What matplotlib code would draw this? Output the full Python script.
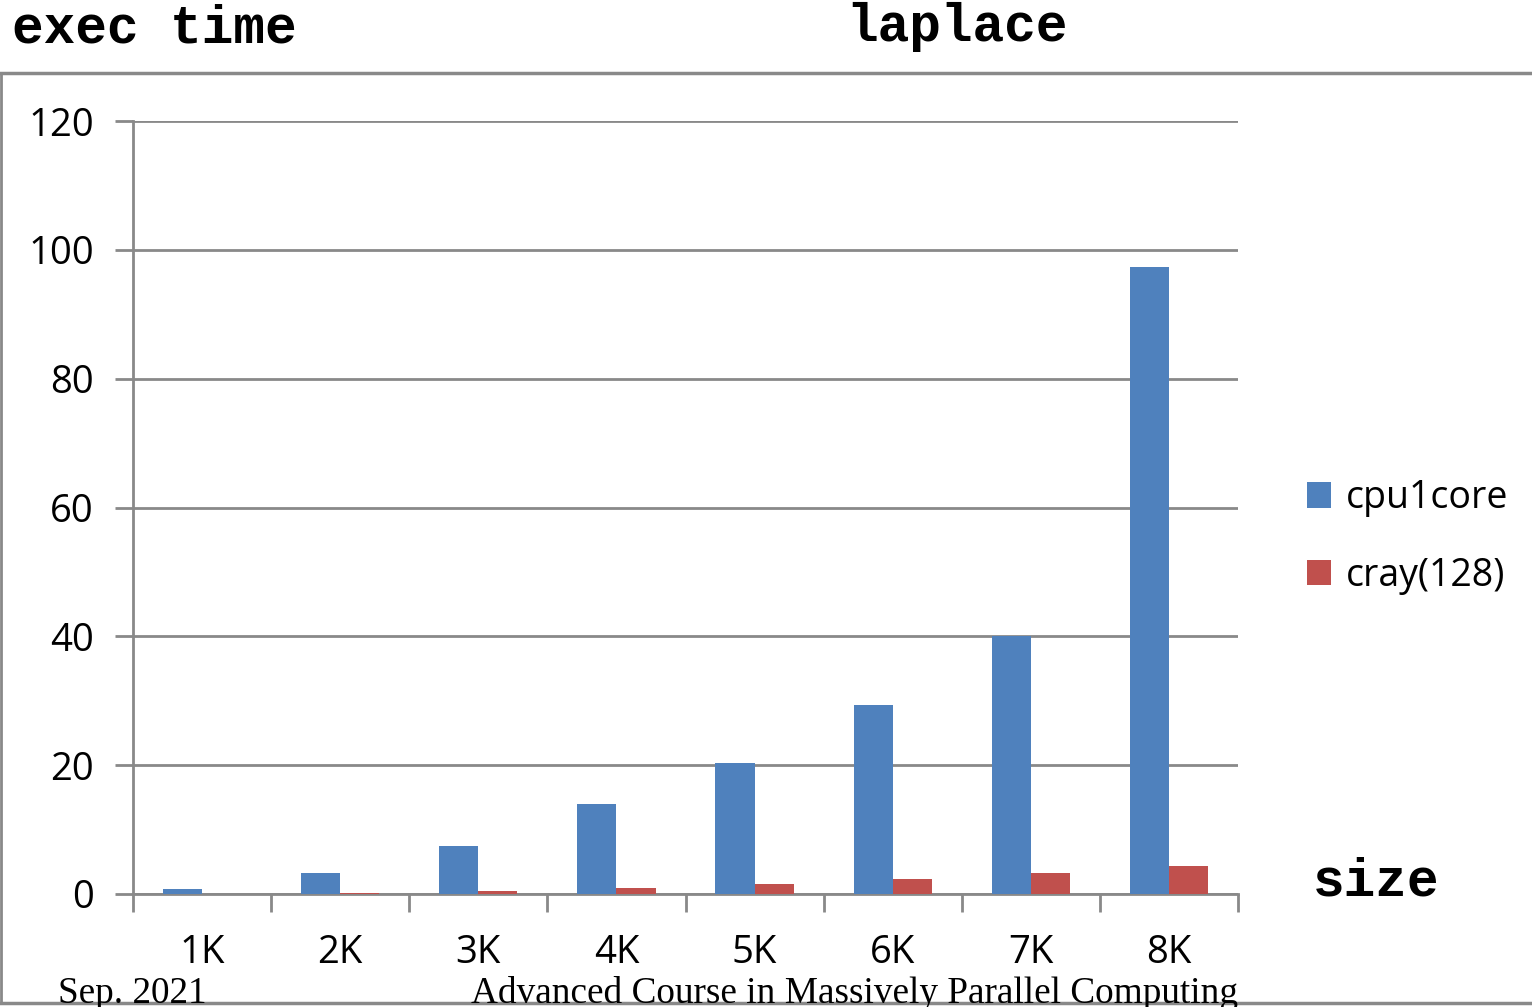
import matplotlib.pyplot as plt
from matplotlib.lines import Line2D
import numpy as np

sizes = ['1K', '2K', '3K', '4K', '5K', '6K', '7K', '8K']
cpu1core = [0.8, 3.3, 7.5, 14.0, 20.3, 29.3, 40.0, 97.4]
cray128 = [0.05, 0.1, 0.5, 0.9, 1.6, 2.3, 3.3, 4.3]

BLUE = '#4F81BD'
RED = '#C0504D'
GRID = '#898989'

fig = plt.figure(figsize=(15.32, 10.07), dpi=100)
ax = fig.add_axes([133 / 1532, 113 / 1007, 1105 / 1532, 773 / 1007])

x = np.arange(len(sizes))
w = 0.283
ax.bar(x - w / 2, cpu1core, w, color=BLUE, label='cpu1core', zorder=3)
ax.bar(x + w / 2, cray128, w, color=RED, label='cray(128)', zorder=3)

ax.set_xlim(-0.5, len(sizes) - 0.5)
ax.set_ylim(0, 120)
ax.set_yticks(range(0, 121, 20))
ax.yaxis.grid(True, color=GRID, lw=2, zorder=1)
ax.set_axisbelow(True)

ax.set_xticks(x)
ax.set_xticklabels(sizes)
ax.set_xticks(np.arange(-0.5, len(sizes)), minor=True)
ax.tick_params(axis='x', which='major', length=0, pad=29)
ax.tick_params(axis='x', which='minor', length=13, width=2, color=GRID, direction='out')
ax.tick_params(axis='y', length=13, width=2, color=GRID, pad=15)
for lab in ax.get_xticklabels() + ax.get_yticklabels():
    lab.set_fontfamily('Open Sans')
    lab.set_fontsize(27.5)

for side in ('top', 'right'):
    ax.spines[side].set_visible(False)
for side in ('left', 'bottom'):
    ax.spines[side].set_color(GRID)
    ax.spines[side].set_linewidth(2)

ax.legend(loc='center left', bbox_to_anchor=(1.0624, 0.462), frameon=False,
          borderaxespad=0, borderpad=0,
          prop={'family': 'Open Sans', 'size': 27}, handlelength=0.65,
          handleheight=0.65, handletextpad=0.4, labelspacing=1.05)

mono = {'family': 'Liberation Mono', 'weight': 'bold', 'size': 38}
fig.text(12 / 1532, 1 - 28 / 1007, 'exec time', va='center', ha='left', **mono)
fig.text(957 / 1532, 1 - 27 / 1007, 'laplace', va='center', ha='center', **mono)
fig.text(1313 / 1532, 1 - 881 / 1007, 'size', va='center', ha='left', **mono)

# slide frame lines
fig.add_artist(Line2D([0, 1], [1 - 73 / 1007] * 2, color=GRID, lw=2.5))
fig.add_artist(Line2D([1 / 1532] * 2, [1 - 73 / 1007, 1 - 1003 / 1007], color=GRID, lw=2))
fig.add_artist(Line2D([0, 1], [1 - 1003 / 1007] * 2, color=GRID, lw=2.5))

serif = {'family': 'Liberation Serif', 'size': 26.8}
fig.text(58 / 1532, 1 - 1003 / 1007, 'Sep. 2021', va='baseline', ha='left', **serif)
fig.text(1238 / 1532, 1 - 1003 / 1007, 'Advanced Course in Massively Parallel Computing',
         va='baseline', ha='right', **serif)

fig.savefig('out.png', dpi=100)
